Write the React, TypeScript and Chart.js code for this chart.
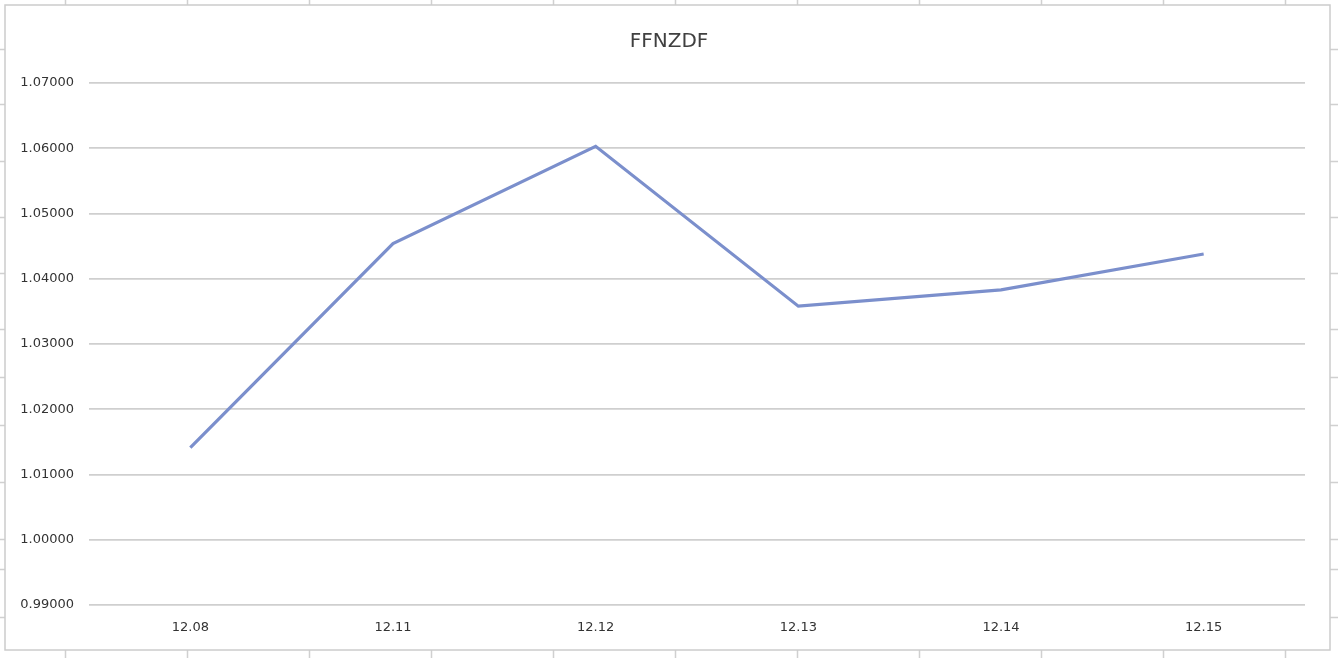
import React, { useEffect, useRef } from "react";
import { Chart, registerables } from "chart.js";

Chart.register(...registerables);

const title = "FFNZDF";
const categories = ["12.08", "12.11", "12.12", "12.13", "12.14", "12.15"];
const values = [1.0141, 1.0454, 1.0603, 1.0358, 1.0383, 1.0438];
const yMin = 0.99;
const yMax = 1.07;
const yStep = 0.01;

const W = 1338;
const H = 658;
const sheetCols = [65, 187, 309, 431, 553, 675, 797, 919, 1041, 1163, 1285];
const sheetRows = [49, 104, 161, 217, 273, 329, 377, 425, 482, 539, 569, 617];

const sheetPlugin = {
  id: "sheet",
  beforeDraw(chart: any) {
    const ctx = chart.ctx;
    ctx.save();
    ctx.fillStyle = "#ffffff";
    ctx.fillRect(0, 0, W, H);
    ctx.strokeStyle = "#d0d0d0";
    ctx.lineWidth = 1.5;
    for (const x of sheetCols) {
      ctx.beginPath();
      ctx.moveTo(x + 0.5, 0);
      ctx.lineTo(x + 0.5, H);
      ctx.stroke();
    }
    for (const y of sheetRows) {
      ctx.beginPath();
      ctx.moveTo(0, y + 0.5);
      ctx.lineTo(W, y + 0.5);
      ctx.stroke();
    }
    ctx.fillStyle = "#ffffff";
    ctx.fillRect(5, 5, 1325, 645);
    ctx.strokeStyle = "#cccccc";
    ctx.lineWidth = 1.5;
    ctx.strokeRect(5, 5, 1325, 645);
    ctx.restore();
  },
};

export default function App() {
  const ref = useRef<HTMLCanvasElement>(null);
  useEffect(() => {
    if (!ref.current) return;
    const chart = new Chart(ref.current, {
      type: "line",
      data: {
        labels: categories,
        datasets: [
          {
            label: title,
            data: values,
            borderColor: "rgb(123,143,204)",
            backgroundColor: "rgb(123,143,204)",
            borderWidth: 3.2,
            pointRadius: 0,
            tension: 0,
            yAxisID: "y",
          },
        ],
      },
      options: {
        animation: false,
        responsive: false,
        devicePixelRatio: 1,
        layout: { padding: 0 },
        plugins: {
          legend: { display: false },
          tooltip: { enabled: false },
          title: {
            display: true,
            text: title,
            color: "#404040",
            font: { family: "'DejaVu Sans'", size: 20, weight: "normal" },
            padding: { top: 30, bottom: 29 },
          },
        },
        scales: {
          x: {
            type: "category",
            offset: true,
            grid: { display: false, drawTicks: false },
            border: { display: false },
            ticks: {
              color: "#333333",
              font: { family: "'DejaVu Sans'", size: 13 },
              padding: 15,
              maxRotation: 0,
            },
            afterFit: (s: any) => {
              s.height = 53;
            },
          },
          y: {
            position: "left",
            min: yMin,
            max: yMax,
            grid: { color: "#cfcfcf", lineWidth: 1.7, drawTicks: false },
            border: { display: false },
            ticks: {
              stepSize: yStep,
              color: "#333333",
              font: { family: "'DejaVu Sans'", size: 13 },
              padding: 15,
              callback: (v: any) => Number(v).toFixed(5),
            },
            afterFit: (s: any) => {
              s.width = 89;
            },
          },
          yRight: {
            position: "right",
            min: yMin,
            max: yMax,
            grid: { display: false, drawTicks: false },
            border: { display: false },
            ticks: { display: false },
            afterFit: (s: any) => {
              s.width = 33;
            },
          },
        },
      },
      plugins: [sheetPlugin],
    });
    return () => chart.destroy();
  }, []);
  return (
    <canvas
      ref={ref}
      width={W}
      height={H}
      style={{ position: "fixed", left: 0, top: 0, width: W, height: H, display: "block" }}
    />
  );
}
